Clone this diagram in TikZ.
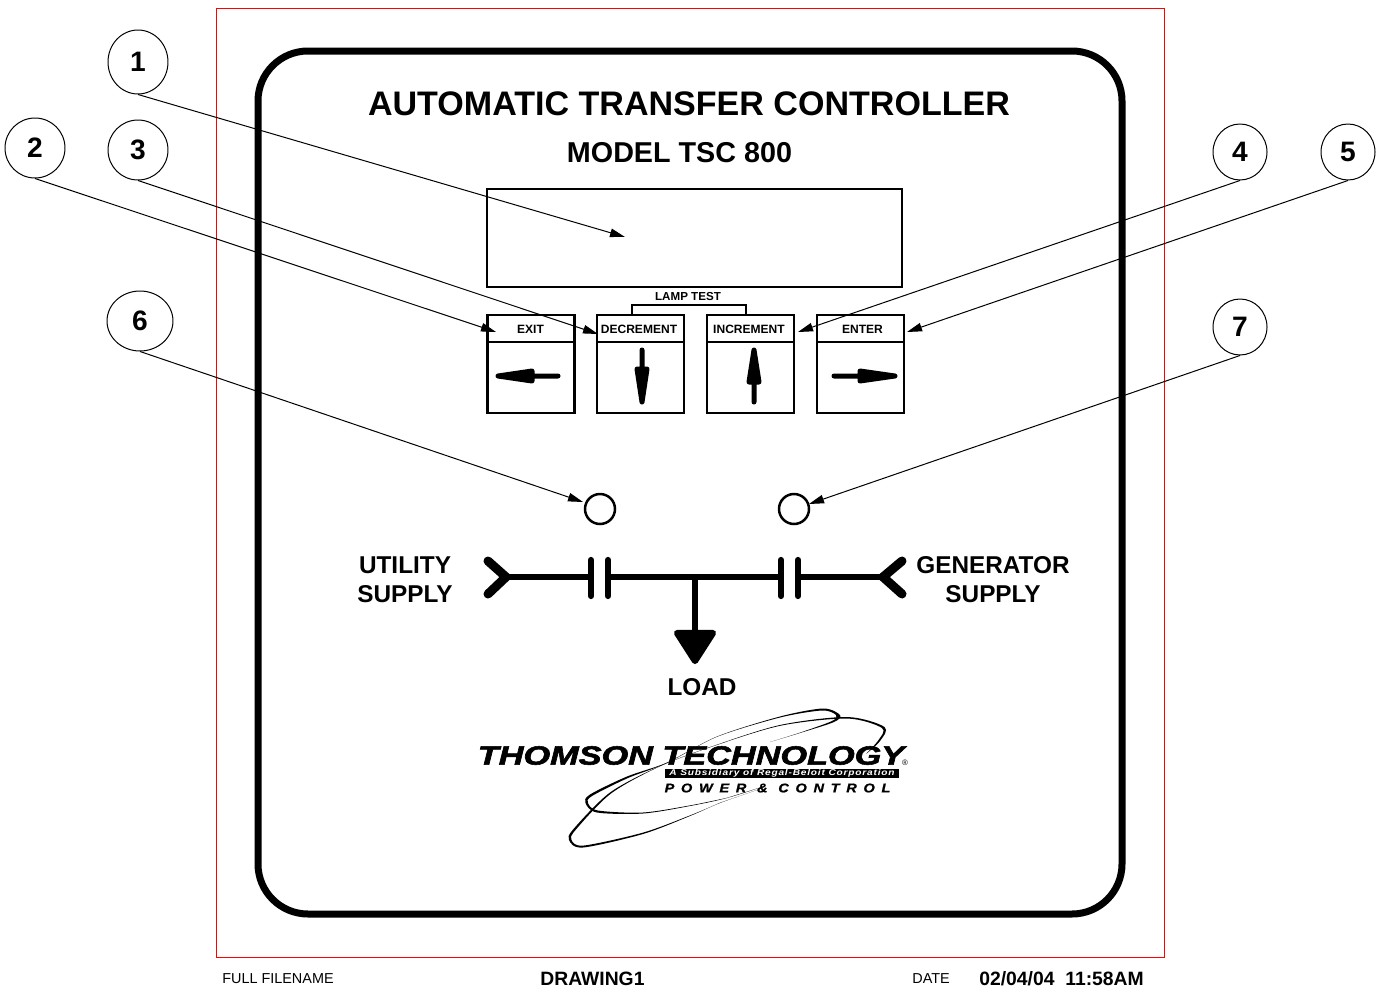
\documentclass[tikz,border=0pt]{standalone}
\usepackage{fontspec}
\setmainfont{Liberation Sans}
\newfontfamily\logofont[BoldItalicFeatures={FakeBold=2}]{Liberation Sans}
\newfontfamily\regalfont[LetterSpace=8]{Liberation Sans}
\newfontfamily\powerfont[LetterSpace=46,BoldItalicFeatures={FakeBold=1}]{Liberation Sans}
\usetikzlibrary{arrows.meta}
\usetikzlibrary{shapes}

\begin{document}
\begin{tikzpicture}[x=0.02cm, y=-0.02cm,
        callout_node_style/.style={ellipse,draw=black,line width=0.02cm,inner sep=0pt,minimum width=1.2cm,minimum height=1.2cm,font=\fontsize{16}{18}\selectfont\bfseries},
        small_callout_node_style/.style={callout_node_style,minimum width=1.08cm,minimum height=1.12cm},
        callout_edge_style/.style={draw=black, line width=0.02cm,-{Triangle[length=0.3cm,width=0.17cm]}},
        button_style/.style={rectangle,draw=black,line width=0.055cm,inner sep=0pt,minimum width=1.74cm,minimum height=1.96cm},
        button_head_style/.style={button_style,minimum height=0.54cm},
        button_label_style/.style={inner sep=0pt,font=\fontsize{6.85}{8}\selectfont\bfseries},
        button_arrow_style/.style={fill=black,draw=black,line width=0.1cm,line join=round,line cap=round},
        led_style/.style={circle,draw=black,line width=0.05cm,inner sep=0pt,minimum size=0.6cm},
        bus_style/.style={draw=black,line width=0.125cm,line cap=round,line join=round},
        chevron_style/.style={bus_style,line width=0.18cm,line join=miter},
        label_style/.style={align=center,inner sep=0pt,font=\fontsize{13.85}{16.6}\selectfont\bfseries},
        foot_style/.style={anchor=west,inner sep=0pt,font=\fontsize{8.2}{10}\selectfont},
        foot_bold_style/.style={anchor=west,inner sep=0pt,font=\fontsize{11}{12}\selectfont\bfseries}]

        \useasboundingbox (0,0) rectangle (1382,987);
        \draw [red, line width=0.015cm] (216,8) rectangle (1164,957);
        \draw [black, line width=0.14cm, rounded corners=1cm] (258,51) rectangle (1122,914);

        \node [inner sep=0pt,font=\fontsize{19.38}{22}\selectfont\bfseries](title) at (689,104) {AUTOMATIC TRANSFER CONTROLLER};
        \node [inner sep=0pt,font=\fontsize{16.35}{20}\selectfont\bfseries](model) at (679.5,153) {MODEL TSC 800};
        \node [rectangle,draw=black,line width=0.05cm,inner sep=0pt,minimum width=8.3cm,minimum height=1.96cm](display) at (694.5,238) {};

        % buttons
        \node [button_style](b1) at (531,364) {};
        \node [button_style](b2) at (640.5,364) {};
        \node [button_style](b3) at (750.5,364) {};
        \node [button_style](b4) at (860.5,364) {};
        \node [button_head_style](h1) at (531,328.5) {};
        \node [button_head_style](h2) at (640.5,328.5) {};
        \node [button_head_style](h3) at (750.5,328.5) {};
        \node [button_head_style](h4) at (860.5,328.5) {};
        \node [button_label_style](l1) at (530.5,329) {EXIT};
        \node [button_label_style](l2) at (639,329) {DECREMENT};
        \node [button_label_style](l3) at (749,329) {INCREMENT};
        \node [button_label_style](l4) at (862.5,329) {ENTER};
        \node [inner sep=0pt,font=\fontsize{6.6}{8}\selectfont\bfseries](lamp) at (688,297) {LAMP TEST};
        \coordinate (lampl) at (632,315);
        \coordinate (lampr) at (746,315);
        \draw [black, line width=0.025cm] (lampl) -- (632,305) -- (746,305) -- (lampr);

        \draw [button_arrow_style] (558,376) -- (532,376) -- (532,371) -- (498,376) -- (532,381) -- (532,376);
        \draw [button_arrow_style] (642,350) -- (642,369) -- (637,369) -- (642,402) -- (647,369) -- (642,369);
        \draw [button_arrow_style] (754,402) -- (754,382) -- (749,382) -- (754,350) -- (759,382) -- (754,382);
        \draw [button_arrow_style] (834,376) -- (860,376) -- (860,371) -- (895,376) -- (860,381) -- (860,376);

        % lamps and bus
        \node [led_style](led1) at (600,509) {};
        \node [led_style](led2) at (794,509) {};
        \draw [chevron_style] (488,561) -- (506,577) -- (488,594);
        \draw [chevron_style] (902,561) -- (883,577) -- (902,594);
        \draw [bus_style, line cap=butt] (507,577) -- (591,577);
        \draw [bus_style, line cap=butt] (608,577) -- (781,577);
        \draw [bus_style, line cap=butt] (798,577) -- (881,577);
        \draw [bus_style] (591,560) -- (591,596);
        \draw [bus_style] (608,560) -- (608,596);
        \draw [bus_style] (781,560) -- (781,596);
        \draw [bus_style] (798,560) -- (798,596);
        \draw [bus_style, line cap=butt] (695,577) -- (695,635);
        \draw [bus_style, fill=black] (677,633) -- (713,633) -- (695,661) -- cycle;

        \node [label_style](utility) at (405,579.5) {UTILITY\\SUPPLY};
        \node [label_style](generator) at (993,579.5) {GENERATOR\\SUPPLY};
        \node [label_style](load) at (702,687) {LOAD};

        % logo
        \fill [black] plot [smooth] coordinates {(770,742) (800,733) (834,722) (840,715) (823,708.5) (780,716.5) (717,736.5) (667,762.5) (627,776.5) (590,794.5) (585.5,803) (597,812.5) (643,813.5) (690,806) (727,798) (765,786)}
            -- plot [smooth] coordinates {(727,797.8) (690,805.4) (643,812.5) (598,810.5) (588,803) (592,796) (628,778) (667,763) (717,736.8) (780,717.5) (822,710.5) (836,715) (832,721) (800,732.6) (770,742)} -- cycle;
        \fill [black] plot [smooth] coordinates {(866,754) (880,741) (884.5,727) (847,717) (780,725) (713,746) (660,766) (610,792.5) (573.5,829) (569,840) (583,847.5) (643,834) (690,816) (720,803) (760,789)}
            -- plot [smooth] coordinates {(720,802.7) (690,815.4) (643,832.6) (584,845.5) (571.5,840) (575.5,830) (611,793.5) (660,766.3) (713,746.3) (780,725.8) (847,718.5) (882,728) (878.5,740) (866,754)} -- cycle;
        \node [inner sep=0pt,xscale=1.3,font=\fontsize{15}{17}\logofont\bfseries\itshape](thomson) at (691,755.5) {THOMSON TECHNOLOGY};
        \node [inner sep=0pt,font=\fontsize{4.5}{5}\selectfont](registered) at (905,763) {®};
        \node [rectangle,fill=black,inner sep=0pt,minimum width=4.68cm,minimum height=0.175cm](regal) at (782,773.5) {};
        \node [inner sep=0pt,xscale=1.2,text=white,font=\fontsize{4.8}{6}\regalfont\bfseries\itshape](regaltext) at (782,773.5) {A Subsidiary of Regal-Beloit Corporation};
        \node [inner sep=0pt,xscale=1.15,font=\fontsize{7.2}{9}\powerfont\bfseries\itshape](power) at (777.5,788) {POWER \& CONTROL};

        % callouts
        \node [callout_node_style,minimum height=1.28cm](c1) at (138,62) {1};
        \node [callout_node_style](c2) at (35,148) {2};
        \node [callout_node_style](c3) at (138,150) {3};
        \node [small_callout_node_style](c4) at (1240,152) {4};
        \node [small_callout_node_style](c5) at (1348,152) {5};
        \node [callout_node_style,minimum width=1.32cm](c6) at (140,321) {6};
        \node [small_callout_node_style](c7) at (1240,327) {7};
        \coordinate (t1) at (625,237);
        \coordinate (t2) at (496,332);
        \coordinate (t3) at (598,334);
        \coordinate (t4) at (798,332);
        \coordinate (t5) at (907,332);
        \coordinate (t6) at (583,502);
        \coordinate (t7) at (809,504);
        \draw [callout_edge_style] (c1.south) -- (t1);
        \draw [callout_edge_style] (c2.south) -- (t2);
        \draw [callout_edge_style] (c3.south) -- (t3);
        \draw [callout_edge_style] (c4.south) -- (t4);
        \draw [callout_edge_style] (c5.south) -- (t5);
        \draw [callout_edge_style] (c6.south) -- (t6);
        \draw [callout_edge_style] (c7.south) -- (t7);

        % footer
        \node [foot_style](f1) at (222,979) {FULL FILENAME};
        \node [foot_bold_style](f2) at (540,979) {DRAWING1};
        \node [foot_style](f3) at (912,979) {DATE};
        \node [foot_bold_style](f4) at (979,979) {02/04/04\ \ 11:58AM};
\end{tikzpicture}
\end{document}
